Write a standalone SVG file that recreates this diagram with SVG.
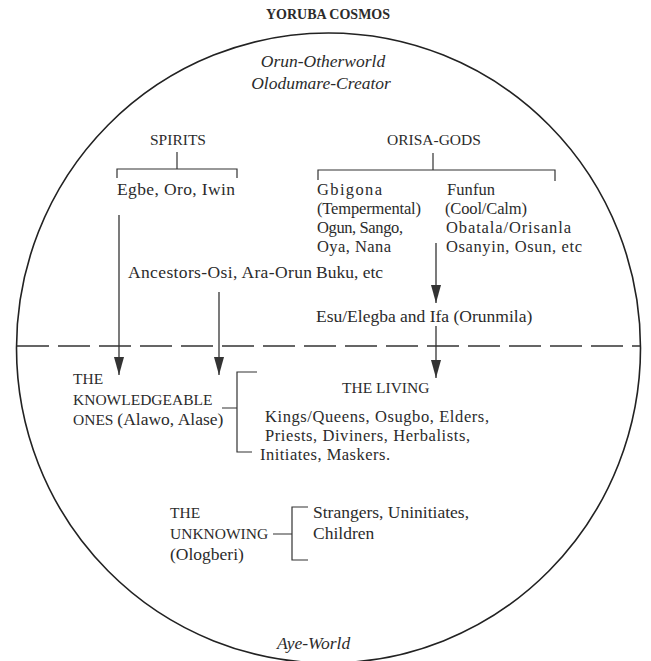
<svg xmlns="http://www.w3.org/2000/svg" width="651" height="661" viewBox="0 0 651 661">
<defs>
<marker id="ah" viewBox="0 0 18 10" refX="18" refY="5" markerWidth="18" markerHeight="10" markerUnits="userSpaceOnUse" orient="auto">
<path d="M0,0 L18,5 L0,10 z" fill="#333"/>
</marker>
<style>
text{font-family:"Liberation Serif","Times New Roman",serif;fill:#2b2b2b;font-size:17.5px}
.title{font-weight:bold;font-size:14px}
.it{font-style:italic;font-size:17.5px}
.cap{font-size:15.5px}
.col{font-size:16.5px}
.ln{stroke:#333;stroke-width:1.2;fill:none}
.arr{stroke:#333;stroke-width:1.3;fill:none;marker-end:url(#ah)}
</style>
</defs>
<rect width="651" height="661" fill="#fff"/>
<text class="title" x="328" y="19" text-anchor="middle">YORUBA COSMOS</text>
<ellipse cx="328.5" cy="348" rx="312" ry="315" fill="none" stroke="#222" stroke-width="1.6"/>
<line x1="17" y1="346" x2="640" y2="346" stroke="#333" stroke-width="1.3" stroke-dasharray="32 9"/>
<g id="orun">
<text class="it" text-anchor="middle"><tspan x="323" y="67">Orun-Otherworld</tspan><tspan x="321" y="89">Olodumare-Creator</tspan></text>
</g>
<g id="spirits">
<text class="cap" x="150" y="145">SPIRITS</text>
<path class="ln" d="M177,152 V169 M117,178 V169 H237 V178"/>
<text x="117" y="195" textLength="118">Egbe, Oro, Iwin</text>
</g>
<g id="orisa">
<text class="cap" x="387" y="145">ORISA-GODS</text>
<path class="ln" d="M433,153 V170 M318,180 V170 H555 V181"/>
</g>
<g id="gbigona">
<text class="col"><tspan x="317" y="195" textLength="65">Gbigona</tspan><tspan x="317" y="214" textLength="104">(Tempermental)</tspan><tspan x="317" y="233" textLength="86">Ogun, Sango,</tspan><tspan x="317" y="252" textLength="74">Oya, Nana</tspan></text>
<text x="316" y="278">Buku, etc</text>
</g>
<g id="funfun">
<text class="col"><tspan x="447" y="195" textLength="48">Funfun</tspan><tspan x="445" y="214" textLength="82">(Cool/Calm)</tspan><tspan x="446" y="233" textLength="125">Obatala/Orisanla</tspan><tspan x="446" y="252" textLength="136">Osanyin, Osun, etc</tspan></text>
</g>
<g id="ancestors">
<text x="128" y="278" textLength="184">Ancestors-Osi, Ara-Orun</text>
</g>
<g id="esu">
<text x="316" y="322">Esu/Elegba and Ifa (Orunmila)</text>
</g>
<g id="knowledgeable">
<text class="cap"><tspan x="73" y="384">THE</tspan><tspan x="73" y="405">KNOWLEDGEABLE</tspan><tspan x="73" y="425">ONES </tspan><tspan style="font-size:17.5px">(Alawo, Alase)</tspan></text>
</g>
<g id="living">
<text class="cap" x="342" y="393">THE LIVING</text>
<text class="col"><tspan x="265" y="422" textLength="224">Kings/Queens, Osugbo, Elders,</tspan><tspan x="265" y="441" textLength="205">Priests, Diviners, Herbalists,</tspan><tspan x="260" y="460" textLength="130">Initiates, Maskers.</tspan></text>
</g>
<g id="unknowing">
<text class="cap"><tspan x="170" y="518">THE</tspan><tspan x="170" y="539">UNKNOWING</tspan><tspan x="170" y="560" style="font-size:17.5px">(Ologberi)</tspan></text>
</g>
<g id="strangers">
<text><tspan x="313" y="518">Strangers, Uninitiates,</tspan><tspan x="313" y="539">Children</tspan></text>
</g>
<g id="aye">
<text class="it" x="277" y="649">Aye-World</text>
</g>
<g id="connectors">
<line class="arr" x1="119" y1="215" x2="119" y2="375"/>
<line class="arr" x1="219" y1="292" x2="219" y2="375"/>
<line class="arr" x1="436" y1="243" x2="436" y2="303"/>
<line class="arr" x1="436" y1="326" x2="436" y2="378"/>
<path class="ln" d="M222,408 H237 M257,372 H237 V452 H252"/>
<path class="ln" d="M273,534 H292 M308,507 H292 V560 H308"/>
</g>
</svg>
